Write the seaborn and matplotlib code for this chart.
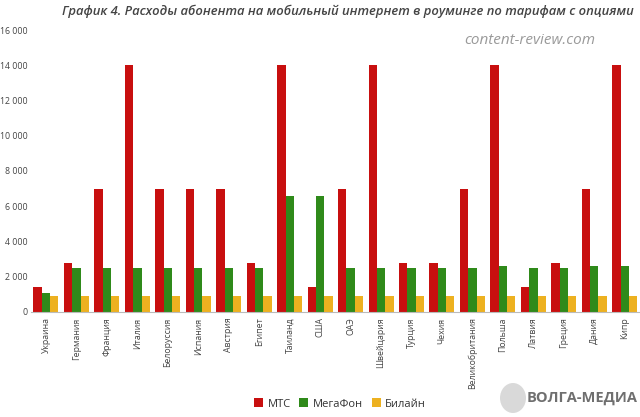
import matplotlib
matplotlib.use("Agg")
import matplotlib.pyplot as plt
import seaborn as sns
import pandas as pd
from matplotlib.ticker import FuncFormatter
from matplotlib.patches import Ellipse

countries = ["Украина", "Германия", "Франция", "Италия", "Белоруссия", "Испания", "Австрия",
             "Египет", "Таиланд", "США", "ОАЭ", "Швейцария", "Турция", "Чехия",
             "Великобритания", "Польша", "Латвия", "Греция", "Дания", "Кипр"]
mts = [1400, 2800, 7000, 14000, 7000, 7000, 7000, 2800, 14000, 1400, 7000, 14000, 2800, 2800,
       7000, 14000, 1400, 2800, 7000, 14000]
megafon = [1050, 2500, 2500, 2500, 2500, 2500, 2500, 2500, 6600, 6600, 2500, 2500, 2500, 2500,
           2500, 2600, 2500, 2500, 2600, 2600]
beeline = [900] * 20
operators = ["МТС", "МегаФон", "Билайн"]
colors = ["#C80F0F", "#2F8A1A", "#EDB120"]

rows = []
for i, c in enumerate(countries):
    for op, vals in zip(operators, [mts, megafon, beeline]):
        rows.append({"country": c, "operator": op, "value": vals[i]})
df = pd.DataFrame(rows)

sns.set_style("white")
plt.rcParams['font.family'] = ['Open Sans', 'DejaVu Sans']

fig = plt.figure(figsize=(6.4, 4.17), dpi=100)
ax = fig.add_axes([0.048, 0.252, 0.952, 0.676])
sns.barplot(data=df, x="country", y="value", hue="operator", hue_order=operators,
            palette=colors, width=0.82, gap=0, ax=ax, legend=True, saturation=1,
            linewidth=0)

ax.set_ylim(0, 16000)
ax.set_xlim(-0.5, len(countries) - 0.5)
ax.set_yticks(range(0, 16001, 2000))
ax.yaxis.set_major_formatter(FuncFormatter(lambda v, p: f"{int(v):,}".replace(",", " ")))
ax.tick_params(axis="y", labelsize=6.3, colors="#444444", length=0, pad=2)
ax.tick_params(axis="x", labelsize=6.3, colors="#444444", length=0, pad=4)
plt.setp(ax.get_xticklabels(), rotation=90)
ax.set_xlabel("")
ax.set_ylabel("")
for s in ["top", "right", "left"]:
    ax.spines[s].set_visible(False)
ax.spines["bottom"].set_color("#bbbbbb")
ax.spines["bottom"].set_linewidth(0.8)

leg = ax.legend(loc="center", bbox_to_anchor=(340 / 640, 1 - 404 / 417),
                bbox_transform=fig.transFigure, ncol=3, frameon=False,
                fontsize=8, handlelength=0.8, handleheight=0.8, handletextpad=0.4,
                columnspacing=0.8)
for t in leg.get_texts():
    t.set_color("#333333")

fig.text(348 / 640, 1 - 11 / 417,
         "График 4. Расходы абонента на мобильный интернет в роуминге по тарифам с опциями",
         ha="center", va="center", fontsize=9.4, style="italic", fontweight="semibold",
         color="#444444")
fig.text(530 / 640, 1 - 41 / 417, "content-review.com", ha="center", va="center",
         fontsize=11, style="italic", color="#9a9a9a")
fig.patches.append(Ellipse((513 / 640, 1 - 398 / 417), 26 / 640, 30 / 417,
                           transform=fig.transFigure, facecolor="#d0d0d0",
                           edgecolor="none", alpha=0.8))
fig.text(582 / 640, 1 - 398 / 417, "ВОЛГА-МЕДИА", ha="center", va="center",
         fontsize=10.5, fontweight="bold", color="#6f6f6f")

fig.savefig("out.png", dpi=100)
